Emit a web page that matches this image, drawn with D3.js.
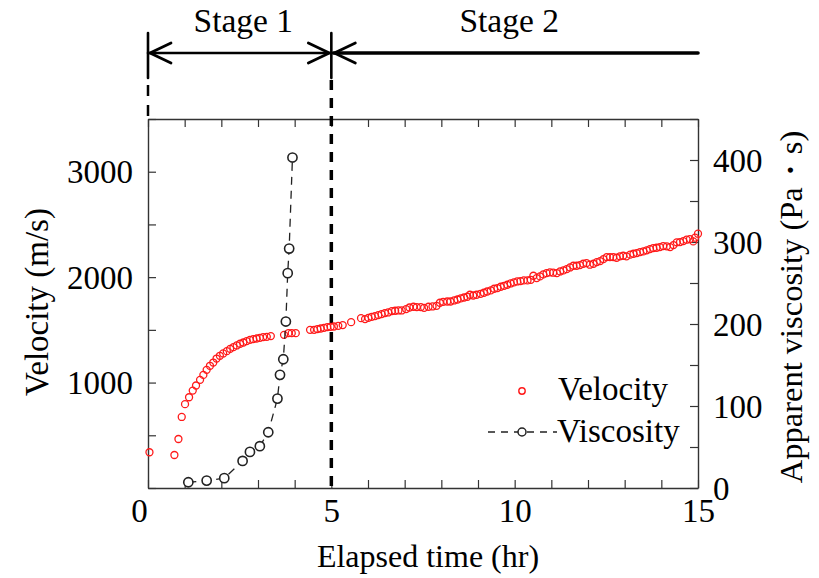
<!DOCTYPE html>
<html>
<head>
<meta charset="utf-8">
<script src="https://cdn.jsdelivr.net/npm/d3@7"></script>
<style>
  html, body { margin: 0; padding: 0; background: #fff; }
  svg { display: block; }
  text { font-family: "Liberation Serif", "Times New Roman", serif; fill: #000; }
</style>
</head>
<body>
<svg id="chart" width="819" height="578"></svg>
<script>
// Elapsed time (hr) and ultrasonic velocity (m/s)
const velocityTime = [
  0.04, 0.72, 0.83, 0.92, 1.01, 1.12, 1.22, 1.31, 1.42, 1.51, 1.60, 1.69, 1.78, 1.87, 1.96,
  2.05, 2.15, 2.24, 2.33, 2.42, 2.51, 2.60, 2.69, 2.78, 2.87, 2.96, 3.05, 3.14, 3.24, 3.35,
  3.71, 3.83, 3.92, 4.03,
  4.42, 4.53, 4.62, 4.71, 4.80, 4.89, 4.98, 5.07, 5.19, 5.31, 5.54, 5.81, 5.92, 6.01, 6.10,
  6.19, 6.28, 6.37, 6.46, 6.55, 6.65, 6.74, 6.83, 6.92, 7.04, 7.13, 7.24, 7.33, 7.44, 7.53,
  7.65, 7.76, 7.87, 7.96, 8.05, 8.16, 8.25, 8.35, 8.44, 8.53, 8.62, 8.71, 8.78, 8.87, 8.96,
  9.07, 9.16, 9.25, 9.35, 9.44, 9.53, 9.62, 9.71, 9.80, 9.89, 9.98, 10.07, 10.16, 10.25, 10.35,
  10.44, 10.51, 10.60, 10.69, 10.78, 10.87, 10.96, 11.05, 11.15, 11.24, 11.33, 11.42, 11.51,
  11.60, 11.69, 11.78, 11.87, 11.96, 12.05, 12.15, 12.24, 12.33, 12.42, 12.51, 12.60, 12.69,
  12.78, 12.87, 12.96, 13.05, 13.15, 13.24, 13.33, 13.42, 13.51, 13.60, 13.69, 13.78, 13.87,
  13.96, 14.05, 14.15, 14.24, 14.33, 14.42, 14.51, 14.60, 14.69, 14.78, 14.87, 14.92, 15.0
];
const velocityValue = [
  339, 313, 465, 674, 795, 861, 924, 972, 1026, 1073, 1121, 1159, 1190, 1228, 1254,
  1276, 1298, 1320, 1336, 1352, 1368, 1380, 1393, 1405, 1412, 1418, 1424, 1431, 1434, 1441,
  1453, 1469, 1469, 1469,
  1500, 1500, 1507, 1513, 1519, 1526, 1529, 1532, 1538, 1545, 1573, 1611, 1602, 1614, 1624,
  1630, 1640, 1649, 1659, 1665, 1678, 1681, 1684, 1684, 1697, 1712, 1719, 1716, 1716, 1709,
  1719, 1722, 1728, 1757, 1766, 1769, 1769, 1779, 1788, 1798, 1807, 1814, 1833, 1826, 1833,
  1842, 1852, 1864, 1874, 1890, 1896, 1909, 1918, 1928, 1940, 1950, 1959, 1962, 1969, 1969,
  1975, 2013, 1991, 2007, 2026, 2038, 2045, 2042, 2038, 2054, 2064, 2076, 2092,
  2108, 2108, 2114, 2127, 2133, 2118, 2127, 2143, 2152, 2171, 2190, 2190, 2190,
  2184, 2197, 2203, 2197, 2213, 2222, 2228, 2238, 2244, 2254, 2266, 2276, 2279,
  2285, 2295, 2292, 2285, 2304, 2330, 2333, 2342, 2355, 2361, 2339, 2374, 2412
];

// Elapsed time (hr) and apparent viscosity (Pa・s)
const viscosityTime  = [1.10, 1.60, 2.08, 2.58, 2.78, 3.05, 3.28, 3.53, 3.60, 3.69, 3.76, 3.81, 3.85, 3.94];
const viscosityValue = [7, 9, 12, 33, 44, 51, 68, 109, 138, 157, 203, 262, 292, 403];

// Axis ticks
const timeTicks = [0, 1, 2, 3, 4, 5, 6, 7, 8, 9, 10, 11, 12, 13, 14, 15];
const timeTickLabels = [0, 5, 10, 15];
const velocityTicks = [0, 500, 1000, 1500, 2000, 2500, 3000, 3500];
const velocityTickLabels = [1000, 2000, 3000];
const viscosityTicks = [0, 50, 100, 150, 200, 250, 300, 350, 400, 450];
const viscosityTickLabels = [0, 100, 200, 300, 400];

// Stages of the process
const stageNames = ["Stage 1", "Stage 2"];
const stageBounds = [0, 5, 15];

const svg = d3.select("#chart");
const plotLeft = 148, plotRight = 698, plotTop = 119, plotBottom = 488;
const frameColor = "#333";

const x = d3.scaleLinear().domain([0, 15]).range([plotLeft, plotRight]);
const yV = d3.scaleLinear().domain([0, 3500]).range([plotBottom, plotTop]);
const yE = d3.scaleLinear().domain([0, 450]).range([plotBottom, plotTop]);

const fmt = (labels) => (d) => labels.includes(d) ? String(d) : "";

function styleAxis(g) {
  g.select(".domain").attr("stroke", frameColor).attr("stroke-width", 1.4);
  g.selectAll(".tick line").attr("stroke", frameColor).attr("stroke-width", 1.2);
  g.selectAll(".tick text").attr("font-size", 33).attr("fill", "#000");
}

// Bottom axis (ticks point inward)
const gx = svg.append("g").attr("transform", `translate(0,${plotBottom})`)
  .call(d3.axisBottom(x).tickValues(timeTicks).tickFormat(fmt(timeTickLabels)).tickSizeInner(-8).tickSizeOuter(0).tickPadding(18));
styleAxis(gx);
gx.selectAll(".tick text").attr("y", 34).attr("dy", 0);
gx.selectAll(".tick text").filter(d => d === 0).attr("dx", -9);

// Top frame with inward ticks
const gxt = svg.append("g").attr("transform", `translate(0,${plotTop})`)
  .call(d3.axisTop(x).tickValues(timeTicks).tickFormat("").tickSizeInner(-8).tickSizeOuter(0));
styleAxis(gxt);

// Left axis: velocity
const gyl = svg.append("g").attr("transform", `translate(${plotLeft},0)`)
  .call(d3.axisLeft(yV).tickValues(velocityTicks).tickFormat(fmt(velocityTickLabels)).tickSizeInner(-8).tickSizeOuter(0).tickPadding(15));
styleAxis(gyl);
gyl.selectAll(".tick text").attr("dy", "0.34em");

// Right axis: apparent viscosity
const gyr = svg.append("g").attr("transform", `translate(${plotRight},0)`)
  .call(d3.axisRight(yE).tickValues(viscosityTicks).tickFormat(fmt(viscosityTickLabels)).tickSizeInner(-8).tickSizeOuter(0).tickPadding(15));
styleAxis(gyr);
gyr.selectAll(".tick text").attr("dy", "0.34em");

// Axis titles
svg.append("text").attr("x", 428).attr("y", 567).attr("text-anchor", "middle")
  .attr("font-size", 32).text("Elapsed time (hr)");
svg.append("text").attr("transform", "translate(48,302) rotate(-90)").attr("text-anchor", "middle")
  .attr("font-size", 33).text("Velocity (m/s)");
svg.append("text").attr("transform", "translate(802,307) rotate(-90)").attr("text-anchor", "middle")
  .attr("font-size", 32.5).text("Apparent viscosity (Pa・s)");

// Boundary between stages (dashed)
svg.append("line").attr("x1", x(stageBounds[1])).attr("x2", x(stageBounds[1]))
  .attr("y1", 80).attr("y2", plotBottom)
  .attr("stroke", "#000").attr("stroke-width", 3.5).attr("stroke-dasharray", "10,8");
svg.append("line").attr("x1", x(stageBounds[0])).attr("x2", x(stageBounds[0]))
  .attr("y1", 85).attr("y2", plotTop)
  .attr("stroke", "#000").attr("stroke-width", 2.5).attr("stroke-dasharray", "11,9");

// Stage brackets with arrows
const arrowY = 53;
const ann = svg.append("g").attr("stroke", "#000").attr("fill", "none").attr("stroke-linecap", "round");
stageBounds.slice(0, 2).forEach(b => {
  ann.append("line").attr("x1", x(b)).attr("x2", x(b)).attr("y1", 33).attr("y2", 78).attr("stroke-width", 2.6);
});
ann.append("line").attr("x1", x(stageBounds[0])).attr("x2", x(stageBounds[1]) - 2)
  .attr("y1", arrowY).attr("y2", arrowY).attr("stroke-width", 2.6);
ann.append("line").attr("x1", x(stageBounds[1]) + 2).attr("x2", x(stageBounds[2]))
  .attr("y1", arrowY).attr("y2", arrowY).attr("stroke-width", 3.6);
function chevron(tipX, dir) {
  ann.append("path")
    .attr("d", `M${tipX + dir * 21},${arrowY - 10} L${tipX},${arrowY} L${tipX + dir * 21},${arrowY + 10}`)
    .attr("stroke-width", 2.8).attr("stroke-linejoin", "round");
}
chevron(x(stageBounds[0]) + 2, 1);
chevron(x(stageBounds[1]) - 2, -1);
chevron(x(stageBounds[1]) + 3, 1);
svg.append("text").attr("x", x(2.6)).attr("y", 32)
  .attr("text-anchor", "middle").attr("font-size", 33.5).text(stageNames[0]);
svg.append("text").attr("x", x(9.85)).attr("y", 32)
  .attr("text-anchor", "middle").attr("font-size", 33.5).text(stageNames[1]);

// Velocity points
const velData = velocityTime.map((t, i) => ({ t, v: velocityValue[i] }));
svg.append("g").selectAll("circle").data(velData).join("circle")
  .attr("cx", d => x(d.t)).attr("cy", d => yV(d.v)).attr("r", 3.5)
  .attr("fill", "none").attr("stroke", "#ff1a1a").attr("stroke-width", 1.3);

// Viscosity curve
const viscData = viscosityTime.map((t, i) => ({ t, e: viscosityValue[i] }));
svg.append("path").datum(viscData)
  .attr("d", d3.line().x(d => x(d.t)).y(d => yE(d.e)))
  .attr("fill", "none").attr("stroke", "#222").attr("stroke-width", 1.3).attr("stroke-dasharray", "8,6");
svg.append("g").selectAll("circle").data(viscData).join("circle")
  .attr("cx", d => x(d.t)).attr("cy", d => yE(d.e)).attr("r", 4.6)
  .attr("fill", "#fff").attr("stroke", "#222").attr("stroke-width", 1.6);

// Legend
const lg = svg.append("g");
lg.append("circle").attr("cx", 522).attr("cy", 391).attr("r", 3.2)
  .attr("fill", "none").attr("stroke", "#ff1a1a").attr("stroke-width", 1.4);
lg.append("text").attr("x", 558).attr("y", 400).attr("font-size", 33).text("Velocity");
lg.append("line").attr("x1", 488).attr("x2", 557).attr("y1", 432).attr("y2", 432)
  .attr("stroke", "#222").attr("stroke-width", 1.4).attr("stroke-dasharray", "7,6");
lg.append("circle").attr("cx", 522).attr("cy", 432).attr("r", 4)
  .attr("fill", "#fff").attr("stroke", "#222").attr("stroke-width", 1.5);
lg.append("text").attr("x", 557).attr("y", 442).attr("font-size", 33).text("Viscosity");
</script>
</body>
</html>
